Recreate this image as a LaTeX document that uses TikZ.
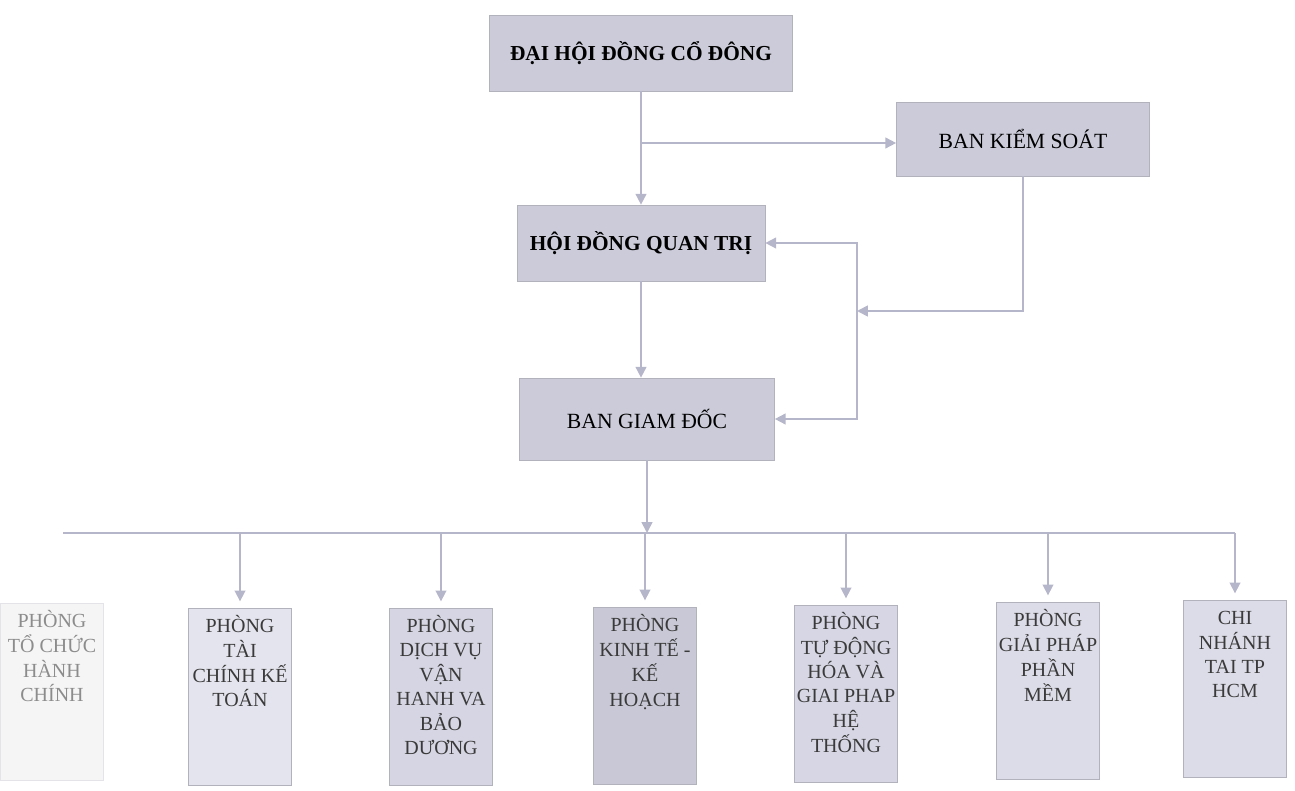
\documentclass[tikz,border=0pt]{standalone}
\usepackage{fontspec}
\setmainfont{Liberation Serif}
\usepackage{tikz}
\usetikzlibrary{arrows.meta,positioning,calc}
\usepackage{xcolor}

\definecolor{boxfill}{HTML}{CBCBD9}
\definecolor{framec}{HTML}{B2B2BC}
\definecolor{linec}{HTML}{B6B6CA}
\definecolor{deptc}{HTML}{3A3A3A}

\newcommand{\lines}[1]{\begin{tabular}[t]{@{}c@{}}#1\end{tabular}}

\begin{document}
\begin{tikzpicture}[x=0.6pt, y=-0.6pt,
    topbox/.style={draw=framec, fill=boxfill, inner sep=0pt, font=\fontsize{13}{15}\selectfont},
    topbold/.style={topbox, font=\fontsize{12.8}{15}\selectfont\bfseries},
    dept/.style={draw=framec, anchor=north, inner sep=0pt, minimum width=62pt,
        text height=14.6pt, text depth=91.8pt, text=deptc, font=\fontsize{12}{14.6}\selectfont},
    conn/.style={draw=linec, line width=1pt, -{Triangle[length=6.5pt, width=6.5pt]}},
    conn2/.style={conn, {Triangle[length=6.5pt, width=6.5pt]}-{Triangle[length=6.5pt, width=6.5pt]}},
    bus/.style={draw=linec, line width=1pt}]
    \useasboundingbox (0,0) rectangle (1295,791);

    % Upper levels
    \node[topbold, minimum width=181.8pt, minimum height=45.6pt] (dhcd) at (641,53) {ĐẠI HỘI ĐỒNG CỔ ĐÔNG};
    \node[topbox, minimum width=151.8pt, minimum height=44.4pt] (bks) at (1023,139) {BAN KIỂM SOÁT};
    \node[topbold, minimum width=148.8pt, minimum height=45.6pt] (hdqt) at (641,243) {HỘI ĐỒNG QUAN TRỊ};
    \node[topbox, minimum width=153pt, minimum height=49.2pt] (bgd) at (647,419) {BAN GIAM ĐỐC};

    % Departments
    \node[dept, fill=black!4, draw=framec!35, text=black!45] (tchc) at (52,603) {\lines{PHÒNG\\TỔ CHỨC\\HÀNH\\CHÍNH}};
    \node[dept, fill={rgb,255:red,228;green,228;blue,238}] (tckt) at (240,608) {\lines{PHÒNG\\TÀI\\CHÍNH KẾ\\TOÁN}};
    \node[dept, fill={rgb,255:red,213;green,213;blue,227}] (dv) at (441,608) {\lines{PHÒNG\\DỊCH VỤ\\VẬN\\HANH VA\\BẢO\\DƯƠNG}};
    \node[dept, fill={rgb,255:red,200;green,200;blue,214}] (kt) at (645,607) {\lines{PHÒNG\\KINH TẾ -\\KẾ\\HOẠCH}};
    \node[dept, fill={rgb,255:red,214;green,214;blue,228}] (td) at (846,605) {\lines{PHÒNG\\TỰ ĐỘNG\\HÓA VÀ\\GIAI PHAP\\HỆ\\THỐNG}};
    \node[dept, fill={rgb,255:red,220;green,220;blue,232}] (gp) at (1048,602) {\lines{PHÒNG\\GIẢI PHÁP\\PHẦN\\MỀM}};
    \node[dept, fill={rgb,255:red,220;green,220;blue,232}] (cn) at (1235,600) {\lines{CHI\\NHÁNH\\TAI TP\\HCM}};

    % Connectors
    \draw[conn] (dhcd) -- (hdqt);
    \coordinate (fork) at (641,143);
    \draw[conn] (fork) -- (fork -| bks.west);
    \coordinate (side) at (857,311);
    \draw[conn] (bks.south) |- (side);
    \draw[conn2] (hdqt.east) -- (hdqt.east -| side) -- (bgd.east -| side) -- (bgd.east);
    \draw[conn] (hdqt.south) -- (hdqt.south |- bgd.north);
    \coordinate (busmid) at (647,533);
    \draw[conn] (bgd) -- (busmid);
    \coordinate (busL) at (63,533);
    \draw[bus] (busL) -- (busL -| cn.north);
    \foreach \d in {tckt,dv,kt,td,gp,cn}
        \draw[conn, shorten >=4pt] (\d.north |- busL) -- (\d.north);

\end{tikzpicture}
\end{document}
